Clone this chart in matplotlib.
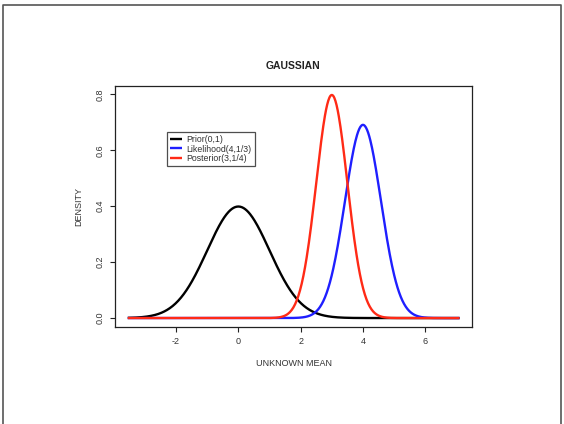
import numpy as np
import matplotlib
matplotlib.use("Agg")
import matplotlib.pyplot as plt
from matplotlib.lines import Line2D

# Distribution parameters (mean, variance) as given in the legend
labels = ["Prior(0,1)", "Likelihood(4,1/3)", "Posterior(3,1/4)"]
means = [0.0, 4.0, 3.0]
variances = [1.0, 1.0 / 3.0, 1.0 / 4.0]
colors = ["#000000", "#1f1fff", "#ff2a16"]
x_range = [-3.55, 7.1]
xticks = [-2, 0, 2, 4, 6]
yticks = [0.0, 0.2, 0.4, 0.6, 0.8]

plt.rcParams['font.family'] = ['Liberation Sans', 'DejaVu Sans']
txt = '#333333'

fig = plt.figure(figsize=(5.64, 4.24), dpi=100)
ax = fig.add_axes([115 / 564, 1 - 327 / 424, (472 - 115) / 564, (327 - 86) / 424])

x = np.linspace(x_range[0], x_range[1], 600)
for lab, m, v, c in zip(labels, means, variances, colors):
    y = np.exp(-(x - m) ** 2 / (2 * v)) / np.sqrt(2 * np.pi * v)
    ax.plot(x, y, color=c, lw=1.7, label=lab, solid_capstyle='butt')

ax.set_xlim(-3.96, 7.5)
ax.set_ylim(-0.032, 0.830)
ax.set_xticks(xticks)
ax.set_xticklabels([f"{t:d}" for t in xticks], color=txt)
ax.set_yticks(yticks)
ax.set_yticklabels([f"{t:.1f}" for t in yticks], rotation=90, va='center', color=txt)
ax.tick_params(labelsize=6.5, length=3.5, width=0.8, color='#222222', pad=4)
for s in ax.spines.values():
    s.set_linewidth(0.9)
    s.set_color('#222222')

ax.set_title("GAUSSIAN", fontsize=7.5, fontweight='bold', color='#222222', pad=12)
ax.set_xlabel("UNKNOWN MEAN", fontsize=6.5, color=txt, labelpad=9)
ax.set_ylabel("DENSITY", fontsize=6.5, color=txt, labelpad=9)

leg = ax.legend(loc='upper left', bbox_to_anchor=((167 - 115) / 357, (327 - 132) / 241),
                fontsize=6.3, frameon=True, fancybox=False, handlelength=1.4,
                handletextpad=0.5, borderpad=0.35, labelspacing=0.05, borderaxespad=0)
leg.get_frame().set_edgecolor('#222222')
leg.get_frame().set_linewidth(0.9)
for t in leg.get_texts():
    t.set_color(txt)

# outer border (top, left, right)
fig.add_artist(Line2D([3 / 564, 3 / 564, 561 / 564, 561 / 564],
                      [0, 1 - 5 / 424, 1 - 5 / 424, 0],
                      transform=fig.transFigure, color='#555555', lw=1.2))

fig.savefig("out.png", dpi=100)
